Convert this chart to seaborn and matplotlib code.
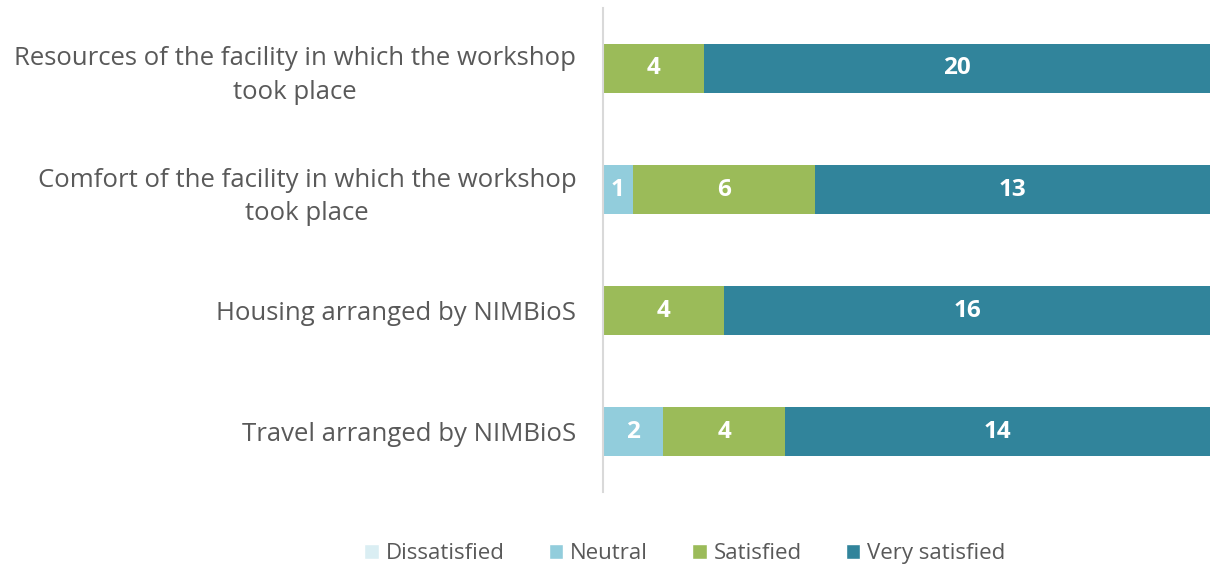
import pandas as pd
import matplotlib.pyplot as plt
import seaborn as sns
from matplotlib.patches import Patch

# data
items = ['Resources of the facility in which the workshop\ntook place',
         'Comfort of the facility in which the workshop\ntook place',
         'Housing arranged by NIMBioS',
         'Travel arranged by NIMBioS']
levels = ['Dissatisfied', 'Neutral', 'Satisfied', 'Very satisfied']
dissatisfied = [0, 0, 0, 0]
neutral = [0, 1, 0, 2]
satisfied = [4, 6, 4, 4]
very_satisfied = [20, 13, 16, 14]
colors = ['#DAEEF3', '#92CDDC', '#9BBB59', '#31849B']

counts = pd.DataFrame({'Dissatisfied': dissatisfied, 'Neutral': neutral,
                       'Satisfied': satisfied, 'Very satisfied': very_satisfied},
                      index=items)
share = counts.div(counts.sum(axis=1), axis=0) * 100
cum = share.cumsum(axis=1)

sns.set_style('white')
plt.rcParams['font.family'] = ['Open Sans', 'DejaVu Sans']

fig = plt.figure(figsize=(12.1, 5.67), dpi=100)
ax = fig.add_axes([0.498, 0.132, 0.502, 0.854])

# stacked bars: draw cumulative widths from the outermost level inward
for lvl, col in reversed(list(zip(levels, colors))):
    sns.barplot(x=cum[lvl].values, y=items, orient='h', color=col,
                width=0.4, saturation=1, ax=ax, linewidth=0)

# segment labels
for i, item in enumerate(items):
    for lvl in levels:
        v = counts.loc[item, lvl]
        if v > 0:
            mid = cum.loc[item, lvl] - share.loc[item, lvl] / 2
            ax.text(mid, i, str(v), ha='center', va='center', color='white',
                    fontsize=17.5, fontweight='bold')

ax.set_xlim(0, 100)
ax.set_ylim(3.5, -0.5)
ax.set_xlabel('')
ax.set_ylabel('')
ax.set_xticks([])
ax.tick_params(axis='y', length=0, pad=19, labelsize=18.5, labelcolor='#595959')
for lab in ax.get_yticklabels():
    lab.set_horizontalalignment('right')
    lab.set_multialignment('center')
    lab.set_linespacing(1.45)
for s in ['top', 'right', 'bottom']:
    ax.spines[s].set_visible(False)
ax.spines['left'].set_color('#D9D9D9')
ax.spines['left'].set_linewidth(1.5)

handles = [Patch(facecolor=c, label=l) for l, c in zip(levels, colors)]
fig.legend(handles=handles, loc='center', bbox_to_anchor=(0.566, 0.024), ncol=4,
           frameon=False, fontsize=16, handlelength=0.65, handleheight=0.65,
           handletextpad=0.3, columnspacing=2.0, labelcolor='#595959')

fig.savefig('out.png', dpi=100)
